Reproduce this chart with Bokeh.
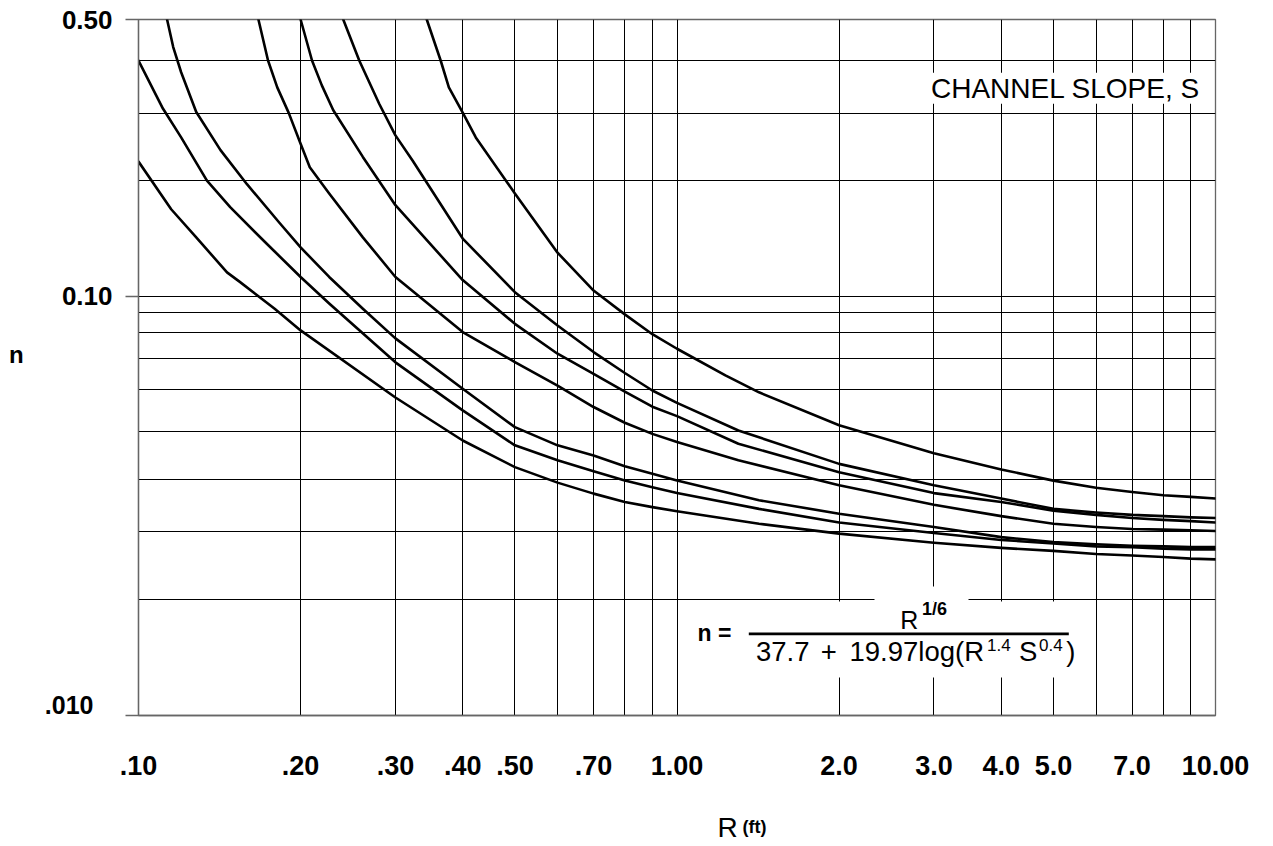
import numpy as np
from bokeh.plotting import figure
from bokeh.models import Range1d, FixedTicker, CustomJSTickFormatter, Label, BoxAnnotation
from bokeh.embed import file_html
from bokeh.resources import INLINE

# ---------------- data ----------------
x_tick_values = [0.1, 0.2, 0.3, 0.4, 0.5, 0.7, 1.0, 2.0, 3.0, 4.0, 5.0, 7.0, 10.0]
x_tick_labels = [".10", ".20", ".30", ".40", ".50", ".70", "1.00", "2.0", "3.0", "4.0", "5.0", "7.0", "10.00"]
x_grid_values = [0.1, 0.2, 0.3, 0.4, 0.5, 0.6, 0.7, 0.8, 0.9, 1, 2, 3, 4, 5, 6, 7, 8, 9, 10]

y_tick_values = [0.1, 0.5]
y_tick_labels = ["0.10", "0.50"]
y_grid_values = [0.5, 0.3933, 0.2901, 0.1958, 0.1, 0.0910, 0.0810, 0.0699, 0.0582,
                 0.0457, 0.0345, 0.0255, 0.0172]
y_bottom_label = ".010"

R_1 = [0.343, 0.364, 0.377, 0.4, 0.423, 0.5, 0.6, 0.7, 0.8, 0.9, 1.0, 1.23, 1.42, 2, 3, 4, 5, 6, 7, 8, 9, 10]
n_1 = [0.500, 0.394, 0.337, 0.291, 0.252, 0.182, 0.129, 0.1035, 0.0901, 0.0803, 0.0738, 0.0632, 0.0573,
       0.0473, 0.0402, 0.0366, 0.0343, 0.0329, 0.0321, 0.0315, 0.0312, 0.0309]

R_2 = [0.240, 0.257, 0.280, 0.3, 0.323, 0.4, 0.5, 0.6, 0.7, 0.8, 0.9, 1.0, 1.30, 2, 3, 4, 5, 6, 7, 8, 9, 10]
n_2 = [0.500, 0.394, 0.306, 0.255, 0.220, 0.140, 0.1025, 0.0845, 0.0724, 0.0641, 0.0579, 0.0539, 0.0459,
       0.0378, 0.0334, 0.0309, 0.0291, 0.0285, 0.0281, 0.0279, 0.0277, 0.0276]

R_3 = [0.2, 0.210, 0.219, 0.230, 0.261, 0.3, 0.4, 0.5, 0.6, 0.7, 0.8, 0.9, 1.0, 1.30, 2, 3, 4, 5, 6, 7, 8, 9, 10]
n_3 = [0.500, 0.394, 0.341, 0.295, 0.225, 0.170, 0.110, 0.0853, 0.0717, 0.0638, 0.0575, 0.0527, 0.0499,
       0.0425, 0.0360, 0.0319, 0.0303, 0.0288, 0.0281, 0.0276, 0.0273, 0.0271, 0.0269]

R_4 = [0.167, 0.174, 0.181, 0.190, 0.2, 0.208, 0.226, 0.261, 0.3, 0.4, 0.5, 0.6, 0.7, 0.8, 0.9, 1.0, 1.30,
       2, 3, 4, 5, 6, 7, 8, 9, 10]
n_4 = [0.500, 0.394, 0.337, 0.291, 0.243, 0.212, 0.182, 0.141, 0.112, 0.0813, 0.0683, 0.0596, 0.0526,
       0.0480, 0.0450, 0.0429, 0.0386, 0.0334, 0.0298, 0.0279, 0.0267, 0.0262, 0.0259, 0.0258, 0.0257, 0.0256]

R_5 = [0.113, 0.116, 0.120, 0.128, 0.142, 0.159, 0.183, 0.2, 0.226, 0.261, 0.3, 0.4, 0.5, 0.6, 0.7, 0.8,
       0.9, 1.0, 1.42, 2, 3, 4, 5, 6, 7, 8, 9, 10]
n_5 = [0.500, 0.426, 0.368, 0.292, 0.234, 0.192, 0.153, 0.133, 0.112, 0.0931, 0.0784, 0.0585, 0.0468,
       0.0421, 0.0397, 0.0373, 0.0357, 0.0343, 0.0306, 0.0283, 0.0262, 0.0247, 0.0240, 0.0237, 0.0235,
       0.0234, 0.0233, 0.0233]

R_6 = [0.1, 0.111, 0.120, 0.134, 0.148, 0.171, 0.2, 0.226, 0.3, 0.4, 0.5, 0.6, 0.7, 0.8, 0.9, 1.0, 1.42,
       2, 3, 4, 5, 6, 7, 8, 9, 10]
n_6 = [0.394, 0.298, 0.252, 0.196, 0.168, 0.138, 0.112, 0.0960, 0.0682, 0.0516, 0.0421, 0.0386, 0.0362,
       0.0343, 0.0330, 0.0319, 0.0291, 0.0269, 0.0253, 0.0243, 0.0238, 0.0234, 0.0233, 0.0231, 0.0230, 0.0230]

R_7 = [0.1, 0.115, 0.128, 0.146, 0.154, 0.179, 0.2, 0.3, 0.4, 0.5, 0.6, 0.7, 0.8, 0.9, 1.0, 1.42,
       2, 3, 4, 5, 6, 7, 8, 9, 10]
n_7 = [0.219, 0.166, 0.141, 0.115, 0.109, 0.0931, 0.0821, 0.0556, 0.0433, 0.0371, 0.0339, 0.0318, 0.0303,
       0.0294, 0.0287, 0.0267, 0.0252, 0.0239, 0.0232, 0.0228, 0.0224, 0.0222, 0.0220, 0.0218, 0.0217]

curves = [(R_1, n_1), (R_2, n_2), (R_3, n_3), (R_4, n_4), (R_5, n_5), (R_6, n_6), (R_7, n_7)]

# ---------------- layout ----------------
X_START, X_END = 0.1, 10.0
Y_BOTTOM, Y_TOP = 0.00876, 0.5
W, H = 1265, 846
ML, MT = 138, 19
FW, FH = 1077, 696
MR = W - ML - FW
MB = H - MT - FH
FONT = "Liberation Sans"
BASE_SHIFT = 0.38   # compensation for where Bokeh places an alphabetic baseline


def px_x(px):
    """picture pixel -> data x, for annotation placement"""
    return X_START * 10 ** ((px - ML) / FW * np.log10(X_END / X_START))


def px_y(py):
    """picture pixel -> data y, for annotation placement"""
    return Y_TOP * 10 ** (-(py - MT) / FH * np.log10(Y_TOP / Y_BOTTOM))


p = figure(width=W, height=H, x_axis_type="log", y_axis_type="log",
           x_range=Range1d(X_START, X_END), y_range=Range1d(Y_BOTTOM, Y_TOP),
           output_backend="svg", toolbar_location=None, title=None,
           min_border_left=ML, min_border_right=MR, min_border_top=MT, min_border_bottom=MB)
p.background_fill_color = "white"
p.border_fill_color = "white"
p.outline_line_color = "#666666"
p.outline_line_width = 1.3

# grids
p.xgrid.ticker = FixedTicker(ticks=x_grid_values)
p.ygrid.ticker = FixedTicker(ticks=y_grid_values)
for g in (p.xgrid, p.ygrid):
    g.grid_line_color = "black"
    g.grid_line_width = 1
    g.minor_grid_line_color = None

# x axis
xa = p.xaxis[0]
xa.ticker = FixedTicker(ticks=x_tick_values)
xa.formatter = CustomJSTickFormatter(args=dict(vals=x_tick_values, labs=x_tick_labels), code="""
for (let i = 0; i < vals.length; i++) {
  if (Math.abs(Math.log10(tick / vals[i])) < 1e-4) return labs[i];
}
return "";
""")
xa.major_tick_line_color = None
xa.minor_tick_line_color = None
xa.axis_line_color = "#666666"
xa.axis_line_width = 1.3
xa.major_label_text_font = FONT
xa.major_label_text_font_style = "bold"
xa.major_label_text_font_size = "27px"
xa.major_label_text_color = "black"
xa.major_label_standoff = 34

# y axis
ya = p.yaxis[0]
ya.ticker = FixedTicker(ticks=[Y_BOTTOM * 1.0005] + y_tick_values)
ya.formatter = CustomJSTickFormatter(args=dict(vals=y_tick_values, labs=y_tick_labels), code="""
for (let i = 0; i < vals.length; i++) {
  if (Math.abs(Math.log10(tick / vals[i])) < 1e-4) return labs[i];
}
return "";
""")
ya.major_tick_out = 13
ya.major_tick_in = 0
ya.major_tick_line_color = "#666666"
ya.major_tick_line_width = 1.3
ya.minor_tick_line_color = None
ya.axis_line_color = "#666666"
ya.axis_line_width = 1.3
ya.major_label_text_font = FONT
ya.major_label_text_font_style = "bold"
ya.major_label_text_font_size = "26px"
ya.major_label_text_color = "black"
ya.major_label_standoff = 13

# curves
for R, n in curves:
    p.line(R, n, line_color="black", line_width=2.6, line_join="round", line_cap="round")

# white boxes behind the formula
p.add_layout(BoxAnnotation(left=px_x(748), right=px_x(1078), top=px_y(601), bottom=px_y(677),
                           fill_color="white", fill_alpha=1.0, line_alpha=0))
p.add_layout(BoxAnnotation(left=px_x(874), right=px_x(968), top=px_y(586), bottom=px_y(601),
                           fill_color="white", fill_alpha=1.0, line_alpha=0))
# fraction bar
p.add_layout(BoxAnnotation(left=px_x(748.3), right=px_x(1068.3), top=px_y(632), bottom=px_y(634.7),
                           fill_color="black", fill_alpha=1.0, line_alpha=0))


def add_text(text, px, py, size, style="normal", align="left", bg=None, place="center"):
    lab = Label(x=px_x(px), y=px_y(py - BASE_SHIFT * size), text=text, text_font=FONT,
                text_font_size=f"{size}px", text_font_style=style, text_align=align,
                text_baseline="alphabetic", text_color="black")
    if bg:
        lab.background_fill_color = bg
        lab.background_fill_alpha = 1.0
    p.add_layout(lab, place)


add_text("CHANNEL SLOPE, S", 930.5, 98.5, 28, bg="white")

# texts outside the frame go into side panels so that they are not clipped
add_text(y_bottom_label, 93, 714, 25, style="bold", align="right", place="left")
add_text("n", 8.5, 363, 24, style="bold", place="right")
add_text("R", 717, 838, 28, place="below")
add_text("(ft)", 742, 833, 18, style="bold", place="below")

# formula
add_text("n =", 697, 641.7, 23, style="bold")
add_text("R", 899.7, 629.3, 25)
add_text("1/6", 921.5, 615, 18, style="bold")
add_text("37.7", 755.5, 661.7, 27.5)
add_text("+", 820.3, 661.7, 27.5)
add_text("19.97log(R", 849, 661.7, 27.5)
add_text("1.4", 986.5, 651, 17)
add_text("S", 1018.6, 661.7, 27.5)
add_text("0.4", 1038.5, 651, 17)
add_text(")", 1065.8, 661.7, 27.5)

open("out.html", "w").write(file_html(p, INLINE))
